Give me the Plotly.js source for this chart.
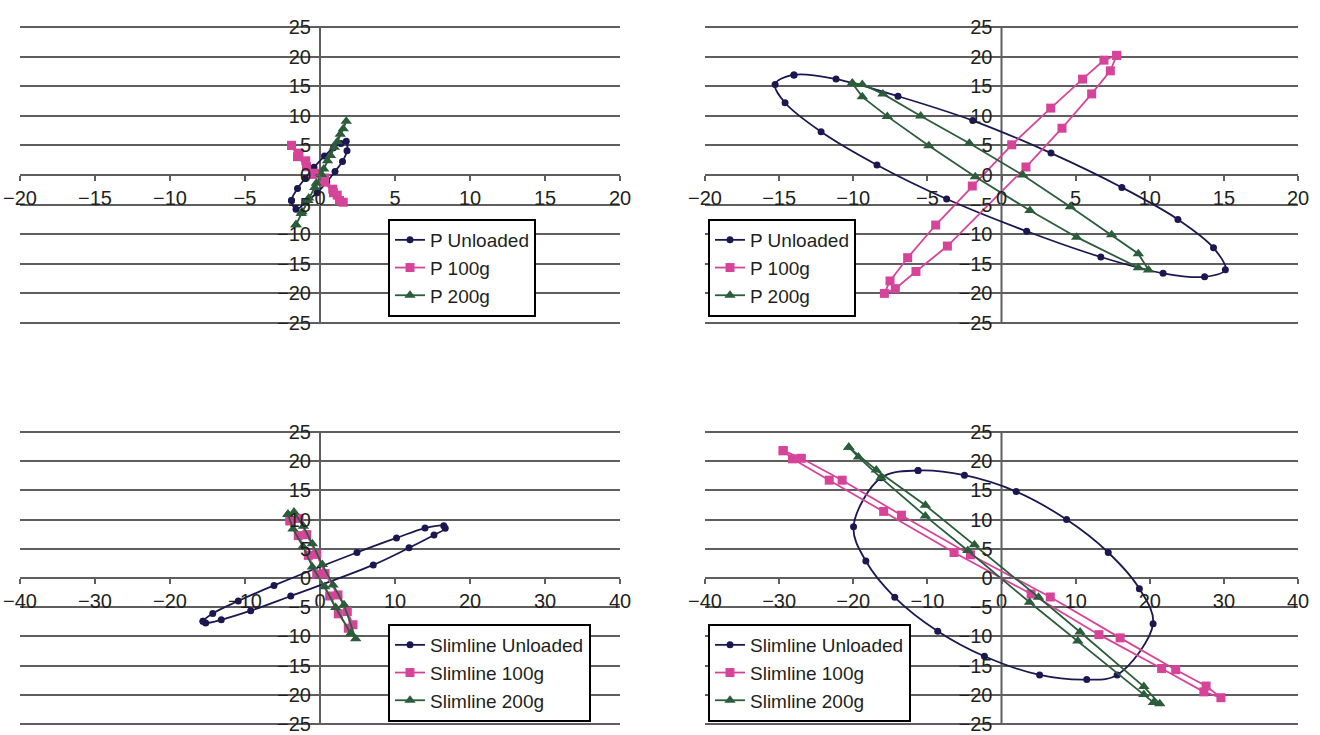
<!DOCTYPE html>
<html><head><meta charset="utf-8">
<script src="https://cdn.plot.ly/plotly-3.0.1.min.js"></script>
<style>html,body{margin:0;padding:0;background:#fff}#chart{width:1320px;height:735px}</style>
</head><body><div id="chart"></div>
<script>
// ---------- Top-left: P (small scale) ----------
const tlUnloadedX = [-1.9, -1.5, -1.0, -0.4, 0.3, 0.9, 1.4, 1.75, 1.8, 1.5, 1.0, 0.45, -0.2, -0.9, -1.6, -1.9];
const tlUnloadedY = [-4.3, -2.3, -0.6, 1.3, 3.2, 4.6, 5.3, 5.7, 4.1, 2.3, 0.6, -1.2, -3.0, -4.5, -5.8, -4.3];
const tl100X = [-1.9, -1.4, -0.95, -0.45, 0.3, 0.85, 1.15, 1.55, 1.3, 0.9, 0.3, -0.3, -0.9, -1.5, -1.9];
const tl100Y = [5.0, 3.7, 2.4, 0.1, -0.5, -2.4, -3.4, -4.6, -4.3, -3.0, -1.2, 0.3, 1.4, 3.1, 5.0];
const tl200X = [-1.6, -1.2, -0.8, -0.35, 0.1, 0.5, 0.95, 1.35, 1.75, 1.55, 1.15, 0.7, 0.25, -0.25, -0.75, -1.25, -1.6];
const tl200Y = [-8.4, -6.2, -4.3, -2.1, 0.1, 2.4, 4.7, 6.9, 9.1, 7.8, 5.6, 3.3, 1.0, -1.4, -3.9, -6.5, -8.4];

// ---------- Top-right: P ----------
const trUnloadedX = [-14.0, -11.16, -6.98, -1.94, 3.34, 8.12, 11.9, 14.3, 15.1, 13.7, 10.9, 6.7, 1.7, -3.7, -8.4, -12.17, -14.6, -15.27, -14.0];
const trUnloadedY = [16.9, 16.2, 13.3, 9.2, 3.7, -2.1, -7.5, -12.3, -16.0, -17.2, -16.6, -13.85, -9.5, -4.05, 1.7, 7.3, 12.2, 15.3, 16.9];
const tr100X = [7.77, 6.91, 5.47, 3.32, 0.69, -1.97, -4.44, -6.33, -7.52, -7.9, -7.16, -5.77, -3.65, 1.65, 4.08, 6.08, 7.34, 7.77];
const tr100Y = [20.2, 19.4, 16.2, 11.3, 5.1, -1.86, -8.45, -13.97, -17.9, -20.0, -19.2, -16.3, -12.0, 1.35, 7.9, 13.7, 17.6, 20.2];
const tr200X = [-10.06, -9.39, -8.0, -5.45, -2.17, 1.43, 4.64, 7.43, 9.23, 9.92, 9.23, 5.07, 1.92, -1.77, -4.9, -7.7, -9.39, -10.06];
const tr200Y = [15.5, 15.3, 13.7, 9.97, 5.35, 0.0, -5.35, -10.1, -13.3, -16.05, -15.65, -10.5, -6.0, -0.28, 4.95, 9.9, 13.2, 15.5];

// ---------- Bottom-left: Slimline (small scale) ----------
const blUnloadedX = [-15.6, -14.3, -10.9, -6.13, 4.93, 10.2, 14.0, 16.5, 16.7, 15.2, 11.87, 7.1, -3.9, -9.24, -13.16, -15.24, -15.6];
const blUnloadedY = [-7.42, -6.07, -3.93, -1.27, 4.37, 6.86, 8.56, 8.95, 8.5, 7.37, 5.17, 2.24, -3.08, -5.6, -7.15, -7.7, -7.42];
const bl100X = [-4.0, -2.9, -1.56, -0.44, 1.29, 2.44, 3.77, 4.4, 3.64, 2.4, 0.67, -0.44, -1.77, -2.8, -4.0];
const bl100Y = [9.8, 7.26, 3.87, 0.64, -3.08, -6.13, -8.6, -8.0, -5.74, -2.9, 0.76, 4.04, 7.43, 10.2, 9.8];
const bl200X = [-4.27, -3.6, -2.27, -1.02, 0.62, 2.09, 4.09, 4.76, 3.2, 1.73, 0.31, -1.02, -2.22, -3.47, -4.27];
const bl200Y = [10.9, 8.4, 5.4, 1.9, -1.5, -5.05, -9.5, -10.4, -4.6, -1.2, 2.3, 5.85, 8.85, 11.3, 10.9];

// ---------- Bottom-right: Slimline ----------
const brUnloadedX = [-11.26, -5.0, 1.98, 8.78, 14.4, 18.6, 20.45, 15.6, 11.5, 5.14, -2.3, -8.6, -14.4, -18.3, -19.96, -16.26, -11.26];
const brUnloadedY = [18.4, 17.6, 14.8, 10.0, 4.37, -1.83, -7.83, -16.6, -17.4, -16.6, -13.4, -9.1, -3.3, 2.9, 8.78, 17.15, 18.4];
const br100X = [-29.46, -28.2, -23.24, -15.9, -6.4, 4.0, 13.15, 21.6, 27.3, 29.6, 27.6, 23.5, 16.0, 6.58, -4.19, -13.5, -21.5, -27.0, -29.46];
const br100Y = [21.8, 20.4, 16.75, 11.4, 4.37, -2.74, -9.7, -15.5, -19.5, -20.5, -18.5, -15.7, -10.25, -3.25, 3.98, 10.76, 16.75, 20.5, 21.8];
const br200X = [-20.6, -16.9, -10.27, -3.65, 5.0, 10.6, 19.2, 21.35, 20.5, 19.2, 10.3, 3.78, -4.55, -10.27, -16.26, -19.3, -20.6];
const br200Y = [22.4, 18.5, 12.46, 5.68, -3.3, -9.24, -18.6, -21.55, -21.3, -19.97, -10.8, -4.15, 4.7, 10.6, 17.15, 20.7, 22.4];

const xTicksSmall = [-20, -15, -10, -5, 0, 5, 10, 15, 20];
const xTicksLarge = [-40, -30, -20, -10, 0, 10, 20, 30, 40];
const yTicks = [-25, -20, -15, -10, -5, 0, 5, 10, 15, 20, 25];

const NAVY = '#1b1851', PINK = '#d6449a', GREEN = '#2b5d3b';
const styles = {
  u: {color: NAVY, symbol: 'circle', size: 7, shape: 'spline'},
  a: {color: PINK, symbol: 'square', size: 9, shape: 'linear'},
  b: {color: GREEN, symbol: 'triangle-up', size: 10, shape: 'linear'}
};
function mk(x, y, name, st, xa, ya, lg) {
  const s = styles[st];
  return {x: x, y: y, name: name, type: 'scatter', mode: 'lines+markers',
    xaxis: xa, yaxis: ya, legend: lg,
    line: {color: s.color, width: 1.8, shape: s.shape, smoothing: 1},
    marker: {color: s.color, symbol: s.symbol, size: s.size}};
}
const data = [
  mk(tlUnloadedX, tlUnloadedY, 'P Unloaded', 'u', 'x', 'y', 'legend'),
  mk(tl100X, tl100Y, 'P 100g', 'a', 'x', 'y', 'legend'),
  mk(tl200X, tl200Y, 'P 200g', 'b', 'x', 'y', 'legend'),
  mk(trUnloadedX, trUnloadedY, 'P Unloaded', 'u', 'x2', 'y2', 'legend2'),
  mk(tr100X, tr100Y, 'P 100g', 'a', 'x2', 'y2', 'legend2'),
  mk(tr200X, tr200Y, 'P 200g', 'b', 'x2', 'y2', 'legend2'),
  mk(blUnloadedX, blUnloadedY, 'Slimline Unloaded', 'u', 'x3', 'y3', 'legend3'),
  mk(bl100X, bl100Y, 'Slimline 100g', 'a', 'x3', 'y3', 'legend3'),
  mk(bl200X, bl200Y, 'Slimline 200g', 'b', 'x3', 'y3', 'legend3'),
  mk(brUnloadedX, brUnloadedY, 'Slimline Unloaded', 'u', 'x4', 'y4', 'legend4'),
  mk(br100X, br100Y, 'Slimline 100g', 'a', 'x4', 'y4', 'legend4'),
  mk(br200X, br200Y, 'Slimline 200g', 'b', 'x4', 'y4', 'legend4')
];

const W = 1320, H = 735;
const GRID = '#5e5e5e';
const tickFont = {family: 'Liberation Sans, Arial, sans-serif', size: 20, color: '#231f20'};
const colL = [20 / W, 620 / W], colR = [705 / W, 1298 / W];
// Y range padded a little past ±25 so the ±25 gridlines are kept; domain widened to keep pixel scale.
const YMAX = 25, YPAD = 0.5;
function rowDomain(topPx, botPx) {
  const pxPerUnit = (botPx - topPx) / (2 * YMAX);
  const ext = YPAD * pxPerUnit;
  return [1 - (botPx + ext) / H, 1 - (topPx - ext) / H];
}
const rowT = rowDomain(27, 323), rowB = rowDomain(432, 724);
const mid = d => (d[0] + d[1]) / 2;
function xa(dom, rowDom, ticks) {
  return {domain: dom, range: [ticks[0], ticks[ticks.length - 1]], anchor: 'free', position: mid(rowDom),
    tickvals: ticks, showgrid: false, showline: false,
    zeroline: false,
    ticks: 'outside', ticklen: 5, tickwidth: 2, tickcolor: GRID, tickfont: tickFont,
    ticklabeloverflow: 'allow', fixedrange: true};
}
function ya(dom, colDom) {
  return {domain: dom, range: [-YMAX - YPAD, YMAX + YPAD], anchor: 'free', position: mid(colDom),
    tickvals: yTicks, showgrid: true, gridcolor: GRID, gridwidth: 2, showline: false,
    zeroline: true, zerolinecolor: GRID, zerolinewidth: 2,
    ticks: 'outside', ticklen: 5, tickwidth: 2, tickcolor: GRID, tickfont: tickFont,
    ticklabeloverflow: 'allow', fixedrange: true};
}
function lg(x, y) {
  return {x: x, y: y, xanchor: 'left', yanchor: 'top', bgcolor: '#ffffff', bordercolor: '#000000', borderwidth: 2,
    font: {family: 'Liberation Sans, Arial, sans-serif', size: 19, color: '#231f20'}};
}
// Vertical axis line at x=0 spanning y = -25..25 of each panel
function vline(xref, yref) {
  return {type: 'line', xref: xref, yref: yref, x0: 0, x1: 0, y0: -YMAX, y1: YMAX,
    line: {color: GRID, width: 2}, layer: 'below'};
}
const layout = {
  width: W, height: H, margin: {l: 0, r: 0, t: 0, b: 0},
  paper_bgcolor: '#ffffff', plot_bgcolor: 'rgba(0,0,0,0)',
  showlegend: true,
  xaxis: xa(colL, rowT, xTicksSmall), yaxis: ya(rowT, colL),
  xaxis2: xa(colR, rowT, xTicksSmall), yaxis2: ya(rowT, colR),
  xaxis3: xa(colL, rowB, xTicksLarge), yaxis3: ya(rowB, colL),
  xaxis4: xa(colR, rowB, xTicksLarge), yaxis4: ya(rowB, colR),
  shapes: [vline('x', 'y'), vline('x2', 'y2'), vline('x3', 'y3'), vline('x4', 'y4')],
  legend: lg(388 / W, 1 - 219 / H),
  legend2: lg(708 / W, 1 - 219 / H),
  legend3: lg(388 / W, 1 - 624 / H),
  legend4: lg(708 / W, 1 - 624 / H)
};
Plotly.newPlot('chart', data, layout, {staticPlot: true, displayModeBar: false});
</script></body></html>
